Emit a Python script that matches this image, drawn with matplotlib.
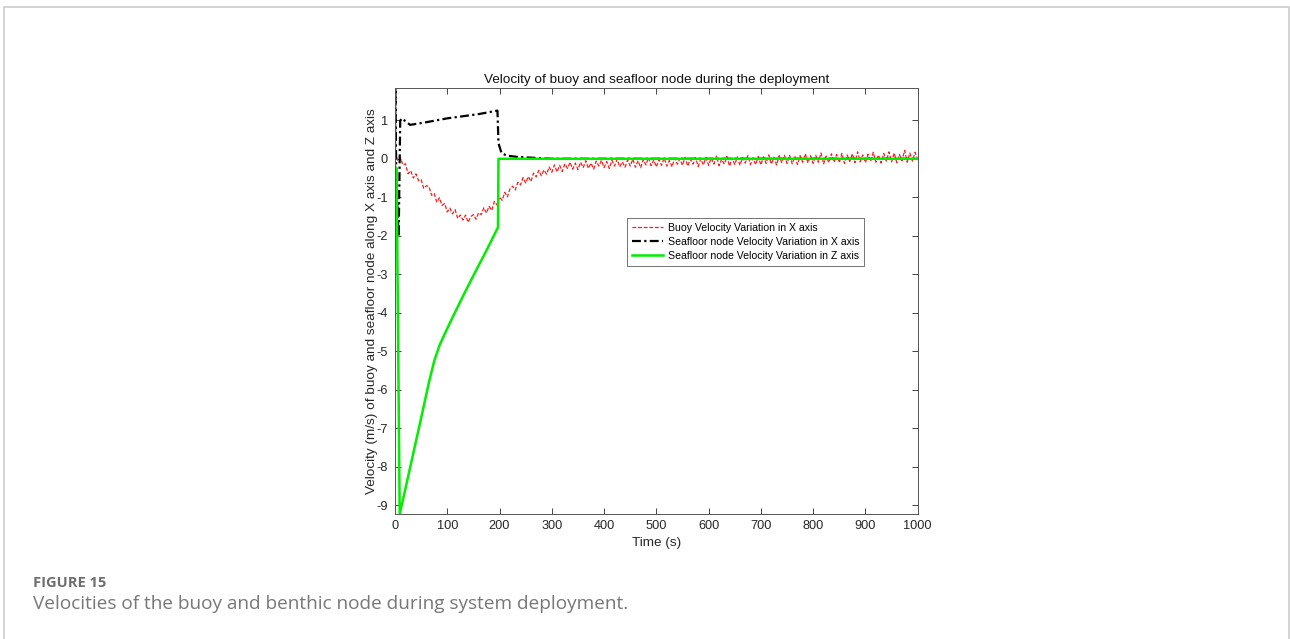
import numpy as np
import matplotlib.pyplot as plt
from matplotlib.patches import Rectangle

# seafloor node, Z axis velocity (m/s)
node_z_t = [0, 3, 9, 30, 50, 65, 75, 85, 95, 110, 134, 155, 175, 197, 198, 1000]
node_z_v = [-0.2, -0.25, -9.23, -7.95, -6.73, -5.8, -5.25, -4.85, -4.55, -4.12,
            -3.46, -2.9, -2.38, -1.78, 0.0, 0.0]

# seafloor node, X axis velocity (m/s)
node_x_t = [0, 0.8, 2.5, 7, 10, 13, 29, 60, 100, 160, 196, 198, 204, 215,
            233, 260, 300, 1000]
node_x_v = [0.2, 1.83, -0.6, -2.02, 0.99, 1.05, 0.88, 0.95, 1.05, 1.16, 1.25,
            0.4, 0.14, 0.08, 0.05, 0.03, 0.0, 0.0]

# buoy, X axis velocity (m/s), sampled every 5 s
buoy_t = np.arange(0, 1001, 5)
buoy_v = [
    0.18, -0.04, 0.05, -0.16, -0.13, -0.39, -0.31, -0.50, -0.39, -0.57,
    -0.54, -0.77, -0.70, -0.72, -0.95, -0.90, -1.13, -1.01, -1.21, -1.16,
    -1.38, -1.28, -1.43, -1.32, -1.55, -1.46, -1.59, -1.46, -1.65, -1.50,
    -1.45, -1.57, -1.40, -1.45, -1.27, -1.41, -1.23, -1.34, -1.11, -1.20,
    -0.99, -1.08, -0.87, -0.99, -0.78, -0.71, -0.81, -0.61, -0.68, -0.49,
    -0.63, -0.46, -0.59, -0.37, -0.47, -0.30, -0.44, -0.29, -0.40, -0.21,
    -0.35, -0.16, -0.34, -0.17, -0.33, -0.13, -0.25, -0.09, -0.27, -0.11,
    -0.28, -0.09, -0.23, -0.05, -0.25, -0.11, -0.27, -0.06, -0.19, -0.04,
    -0.23, -0.07, -0.25, -0.04, -0.19, -0.01, -0.21, -0.08, -0.22, -0.03,
    -0.19, -0.01, -0.22, -0.05, -0.23, -0.02, -0.16, 0.03, -0.18, -0.03,
    -0.21, -0.02, -0.17, 0.02, -0.19, -0.04, -0.21, 0.01, -0.14, 0.00,
    -0.17, 0.04, -0.19, -0.01, -0.14, 0.03, -0.20, 0.00, -0.16, 0.03,
    -0.17, 0.02, -0.14, 0.07, -0.18, -0.01, -0.14, 0.06, -0.19, 0.02,
    -0.15, 0.05, -0.17, 0.03, -0.11, 0.08, -0.15, 0.02, -0.15, 0.06,
    -0.16, 0.05, -0.12, 0.10, -0.14, 0.04, -0.16, 0.08, -0.10, 0.09,
    -0.12, 0.09, -0.13, 0.06, -0.15, 0.08, -0.09, 0.13, -0.11, 0.08,
    -0.12, 0.09, -0.09, 0.15, -0.13, 0.07, -0.10, 0.13, -0.09, 0.11,
    -0.10, 0.14, -0.12, 0.10, -0.07, 0.13, -0.10, 0.18, -0.08, 0.10,
    -0.10, 0.12, -0.07, 0.17, -0.09, 0.10, -0.11, 0.14, -0.06, 0.18,
    -0.08, 0.15, -0.10, 0.11, -0.05, 0.22, -0.09, 0.15, -0.06, 0.17,
    -0.02,
]

x_ticks = list(range(0, 1001, 100))
y_ticks = list(range(-9, 2))

plt.rcParams['font.family'] = ['Liberation Sans', 'DejaVu Sans']
plt.rcParams['axes.unicode_minus'] = False

fig = plt.figure(figsize=(12.9, 6.39), dpi=100)

# page frame around the figure
fig.patches.append(Rectangle((4 / 1290, -0.05), 1285 / 1290, 1.05 - 7 / 639,
                             transform=fig.transFigure, fill=False,
                             edgecolor='#cccccc', linewidth=1.2))

ax = fig.add_axes([395 / 1290, 1 - 514.3 / 639, 522.7 / 1290, 426 / 639])

ax.plot(buoy_t, buoy_v, color='#ff1a1a', linestyle=(0, (3, 1.5)), linewidth=0.9,
        label='Buoy Velocity Variation in X axis')
ax.plot(node_x_t, node_x_v, color='black', linestyle=(0, (4, 1.5, 1, 1.5)),
        linewidth=1.6, label='Seafloor node Velocity Variation in X axis')
ax.plot(node_z_t, node_z_v, color='#00ee00', linestyle='-', linewidth=1.8,
        label='Seafloor node Velocity Variation in Z axis')

ax.set_xlim(0, 1000)
ax.set_ylim(-9.23, 1.83)
ax.set_xticks(x_ticks)
ax.set_yticks(y_ticks)
ax.tick_params(direction='in', top=True, right=True, length=4.5, width=0.6,
               labelsize=9.2, colors='#262626', pad=5)
ax.tick_params(axis='x', pad=4)
for s in ax.spines.values():
    s.set_color('#555555')
    s.set_linewidth(0.7)

ax.set_title('Velocity of buoy and seafloor node during the deployment',
             fontsize=9.7, color='#111111', pad=4)
ax.set_xlabel('Time (s)', fontsize=9.7, color='#262626', labelpad=4)
ax.set_ylabel('Velocity (m/s) of buoy and seafloor node along X axis and Z axis',
              fontsize=9.7, color='#262626', labelpad=-1)

leg = ax.legend(loc='upper left', bbox_to_anchor=(0.444, 0.696), fontsize=7.6,
                frameon=True, fancybox=False, borderpad=0.45, labelspacing=0.4,
                handlelength=3.0, handletextpad=0.4, borderaxespad=0)
leg.get_frame().set_edgecolor('#333333')
leg.get_frame().set_linewidth(0.6)

fig.text(33 / 1290, 1 - 583 / 639, 'FIGURE 15', fontsize=10.5,
         fontweight='bold', color='#6e6e6e', family='Open Sans', va='center')
fig.text(33 / 1290, 1 - 604 / 639,
         'Velocities of the buoy and benthic node during system deployment.',
         fontsize=13.7, color='#777777', family='Open Sans', va='center')

fig.savefig('out.png', dpi=100)
